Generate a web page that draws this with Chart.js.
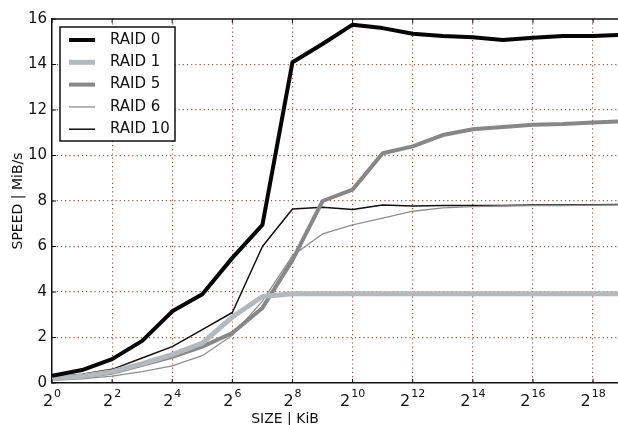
<!DOCTYPE html>
<html>
<head>
<meta charset="utf-8">
<script src="https://cdn.jsdelivr.net/npm/chart.js@4/dist/chart.umd.min.js"></script>
<style>
  html, body { margin: 0; padding: 0; background: #fff; }
</style>
</head>
<body>
<canvas id="chart" width="618" height="425"></canvas>
<script>
// size in KiB = 2^exp
const sizeExps = [0, 1, 2, 3, 4, 5, 6, 7, 8, 9, 10, 11, 12, 13, 14, 15, 16, 17, 18, 19];
const raid0  = [0.32, 0.57, 1.05, 1.85, 3.15, 3.9, 5.5, 6.95, 14.1, 14.9, 15.75, 15.6, 15.35, 15.25, 15.2, 15.08, 15.18, 15.25, 15.25, 15.3];
const raid1  = [0.2, 0.3, 0.5, 0.85, 1.25, 1.75, 2.9, 3.8, 3.92, 3.92, 3.92, 3.92, 3.92, 3.92, 3.92, 3.92, 3.92, 3.92, 3.92, 3.92];
const raid5  = [0.18, 0.28, 0.45, 0.8, 1.15, 1.6, 2.2, 3.3, 5.4, 8.0, 8.5, 10.1, 10.4, 10.9, 11.15, 11.25, 11.35, 11.38, 11.45, 11.5];
const raid6  = [0.12, 0.18, 0.3, 0.5, 0.75, 1.2, 2.1, 3.6, 5.6, 6.55, 6.95, 7.25, 7.55, 7.7, 7.75, 7.78, 7.8, 7.8, 7.82, 7.83];
const raid10 = [0.25, 0.38, 0.6, 1.1, 1.6, 2.35, 3.1, 6.0, 7.65, 7.72, 7.63, 7.82, 7.78, 7.8, 7.8, 7.8, 7.82, 7.82, 7.83, 7.85];

const tickExps = [0, 2, 4, 6, 8, 10, 12, 14, 16, 18];
const tickBase = '2';
const yTicks   = [0, 2, 4, 6, 8, 10, 12, 14, 16];

const FONT = 'DejaVu Sans';
const gridColor = 'rgba(125, 85, 75, 0.95)';

function pts(vals) {
  return sizeExps.map((e, i) => ({ x: e, y: vals[i] }));
}

function gridCol(edgeA, edgeB) {
  return ctx => (ctx.tick && (ctx.tick.value === edgeA || ctx.tick.value === edgeB)) ? 'rgba(0,0,0,0)' : gridColor;
}

// frame top, inward tick marks, power-of-two tick labels, x title and boxed legend
const extras = {
  id: 'extras',
  afterDatasetsDraw(chart) {
    const { ctx, chartArea: a, scales } = chart;
    ctx.save();
    ctx.strokeStyle = '#111';
    ctx.lineWidth = 1.5;
    ctx.beginPath();
    ctx.moveTo(a.left, a.top);
    ctx.lineTo(a.right, a.top);
    ctx.stroke();

    ctx.lineWidth = 1;
    ctx.beginPath();
    tickExps.forEach(v => {
      const x = scales.x.getPixelForValue(v);
      ctx.moveTo(x, a.top); ctx.lineTo(x, a.top + 4);
      ctx.moveTo(x, a.bottom); ctx.lineTo(x, a.bottom - 4);
    });
    yTicks.forEach(v => {
      const y = scales.y.getPixelForValue(v);
      ctx.moveTo(a.left, y); ctx.lineTo(a.left + 4, y);
    });
    ctx.stroke();

    // x tick labels as 2 with superscript exponent
    ctx.fillStyle = '#111';
    ctx.textBaseline = 'alphabetic';
    ctx.textAlign = 'left';
    const baseFont = '16px "' + FONT + '"';
    const supFont = '11px "' + FONT + '"';
    tickExps.forEach(v => {
      const x = scales.x.getPixelForValue(v);
      ctx.font = baseFont;
      const wb = ctx.measureText(tickBase).width;
      ctx.font = supFont;
      const ws = ctx.measureText(String(v)).width;
      const x0 = x - (wb + ws + 1) / 2;
      ctx.font = baseFont;
      ctx.fillText(tickBase, x0, a.bottom + 23);
      ctx.font = supFont;
      ctx.fillText(String(v), x0 + wb + 1, a.bottom + 14);
    });

    // legend
    const bx = a.left + 8, by = a.top + 8, bw = 115, bh = 114;
    ctx.fillStyle = '#fff';
    ctx.fillRect(bx, by, bw, bh);
    ctx.strokeStyle = '#111';
    ctx.lineWidth = 1.5;
    ctx.strokeRect(bx, by, bw, bh);
    ctx.font = '15px "' + FONT + '"';
    ctx.textBaseline = 'middle';
    ctx.textAlign = 'left';
    chart.data.datasets.forEach((ds, i) => {
      const y = by + 13 + i * 22.3;
      ctx.strokeStyle = ds.borderColor;
      ctx.lineWidth = ds.borderWidth;
      ctx.beginPath();
      ctx.moveTo(bx + 9, y);
      ctx.lineTo(bx + 35, y);
      ctx.stroke();
      ctx.fillStyle = '#111';
      ctx.fillText(ds.label, bx + 50, y);
    });

    // x axis title
    ctx.font = '14px "' + FONT + '"';
    ctx.textAlign = 'center';
    ctx.textBaseline = 'middle';
    ctx.fillStyle = '#111';
    ctx.fillText('SIZE | KiB', 285, a.bottom + 36);
    ctx.restore();
  }
};

new Chart(document.getElementById('chart'), {
  type: 'line',
  data: {
    datasets: [
      { label: 'RAID 0',  data: pts(raid0),  borderColor: '#050505', borderWidth: 4 },
      { label: 'RAID 1',  data: pts(raid1),  borderColor: '#b6b9bb', borderWidth: 5 },
      { label: 'RAID 5',  data: pts(raid5),  borderColor: '#878787', borderWidth: 4 },
      { label: 'RAID 6',  data: pts(raid6),  borderColor: '#8e8e8e', borderWidth: 1.3 },
      { label: 'RAID 10', data: pts(raid10), borderColor: '#101010', borderWidth: 1.5 }
    ]
  },
  options: {
    responsive: false,
    animation: false,
    layout: { padding: { top: 19, right: 0, left: 0, bottom: 0 } },
    elements: {
      point: { radius: 0 },
      line: { tension: 0, borderJoinStyle: 'round' }
    },
    plugins: {
      legend: { display: false },
      tooltip: { enabled: false }
    },
    scales: {
      x: {
        type: 'linear',
        min: 0,
        max: 18.83,
        afterBuildTicks: s => { s.ticks = tickExps.map(v => ({ value: v })); },
        afterFit: s => { s.height = 42; },
        grid: { color: gridCol(0, -1), lineWidth: 1.2, drawTicks: false },
        border: { display: true, color: '#111', width: 1.5, dash: [1.2, 3] },
        ticks: { display: false }
      },
      y: {
        min: 0,
        max: 16,
        afterBuildTicks: s => { s.ticks = yTicks.map(v => ({ value: v })); },
        afterFit: s => { s.width = 52; },
        grid: { color: gridCol(0, 16), lineWidth: 1.2, drawTicks: false },
        border: { display: true, color: '#111', width: 1.5, dash: [1.2, 3] },
        title: {
          display: true,
          text: 'SPEED | MiB/s',
          color: '#111',
          font: { family: FONT, size: 14 },
          padding: { top: 10, bottom: 0 }
        },
        ticks: {
          padding: 5,
          color: '#111',
          font: { family: FONT, size: 15 }
        }
      }
    }
  },
  plugins: [extras]
});
</script>
</body>
</html>
